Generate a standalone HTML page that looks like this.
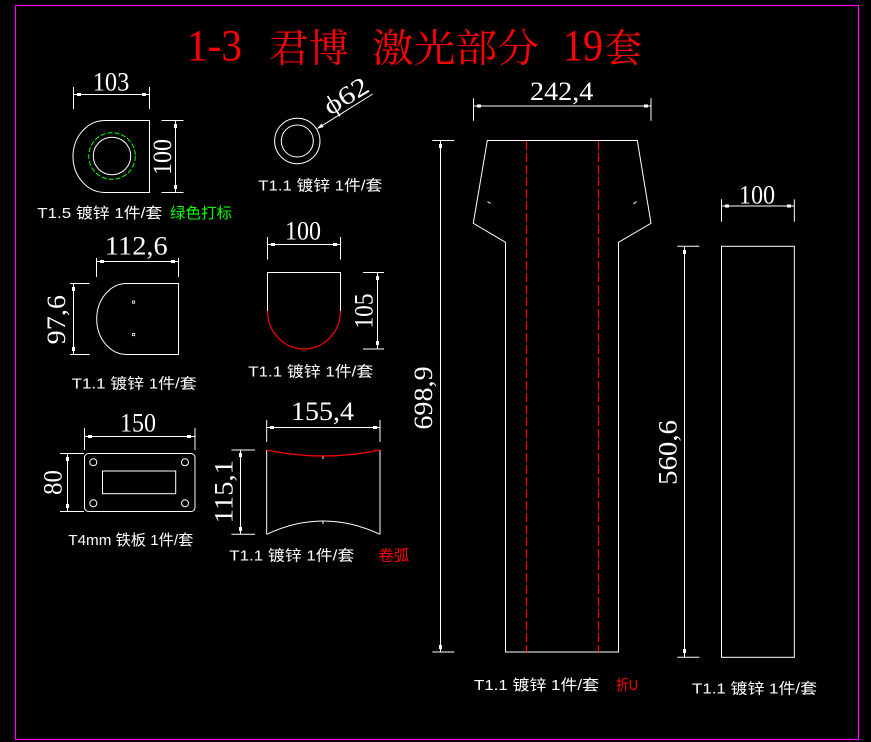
<!DOCTYPE html>
<html>
<head>
<meta charset="utf-8">
<style>
html,body{margin:0;padding:0;background:#000;}
svg{display:block;}
</style>
</head>
<body>
<svg width="871" height="742" viewBox="0 0 871 742" xmlns="http://www.w3.org/2000/svg">
<rect width="871" height="742" fill="#000"/>
<rect x="15.5" y="5.5" width="843" height="734" fill="none" stroke="#ff00ff" stroke-width="1.2"/>

<!-- Title -->
<g fill="#ff0000" font-family="'Liberation Serif','Noto Serif CJK SC',serif">
  <text x="187" y="60" font-size="44" textLength="55" lengthAdjust="spacingAndGlyphs">1-3</text>
  <text x="269" y="62" font-size="39" textLength="80" lengthAdjust="spacingAndGlyphs">君博</text>
  <text x="372" y="62" font-size="39" textLength="167" lengthAdjust="spacingAndGlyphs">激光部分</text>
  <text x="563" y="60" font-size="44" textLength="40" lengthAdjust="spacingAndGlyphs">19</text>
  <text x="605" y="62" font-size="39" textLength="37" lengthAdjust="spacingAndGlyphs">套</text>
</g>

<g stroke="#fff" stroke-width="1" fill="none">
  <!-- Part 1 -->
  <path d="M105,120.5 H149.5 V192.5 H105 A32,36 0 0 1 105,120.5 Z"/>
  <circle cx="112" cy="156" r="18.7"/>
  <line x1="73.5" y1="87" x2="73.5" y2="109"/>
  <line x1="149.5" y1="87" x2="149.5" y2="109"/>
  <line x1="73.5" y1="94.5" x2="149.5" y2="94.5"/>
  <line x1="161.5" y1="120.5" x2="183.5" y2="120.5"/>
  <line x1="161.5" y1="192.5" x2="183.5" y2="192.5"/>
  <line x1="175.5" y1="120.5" x2="175.5" y2="192.5"/>

  <!-- Part 2 -->
  <circle cx="297.3" cy="141" r="22.7"/>
  <circle cx="297.3" cy="141" r="16"/>
  <line x1="319" y1="127.6" x2="372.7" y2="94"/>

  <!-- Part 3 -->
  <path d="M126.7,283.5 H178.5 V354.5 H126.7 A30,35.5 0 0 1 126.7,283.5 Z"/>
  <rect x="132.5" y="301" width="2.2" height="2.2" stroke-width="0.8"/>
  <rect x="132.5" y="333.5" width="2.2" height="2.2" stroke-width="0.8"/>
  <line x1="96.5" y1="258" x2="96.5" y2="277"/>
  <line x1="178.5" y1="258" x2="178.5" y2="277"/>
  <line x1="96.5" y1="261.5" x2="178.5" y2="261.5"/>
  <line x1="70" y1="283.5" x2="89.5" y2="283.5"/>
  <line x1="70" y1="354.5" x2="89.5" y2="354.5"/>
  <line x1="73.5" y1="283.5" x2="73.5" y2="354.5"/>

  <!-- Part 4 -->
  <path d="M267.5,311 V272.5 H340.5 V311"/>
  <line x1="267.5" y1="237" x2="267.5" y2="259.5"/>
  <line x1="340.5" y1="237" x2="340.5" y2="259.5"/>
  <line x1="267.5" y1="244.5" x2="340.5" y2="244.5"/>
  <line x1="363" y1="272.5" x2="384" y2="272.5"/>
  <line x1="363" y1="349" x2="384" y2="349"/>
  <line x1="377.5" y1="272.5" x2="377.5" y2="349"/>

  <!-- Part 5 -->
  <rect x="84.5" y="453.5" width="110.5" height="58" rx="4"/>
  <circle cx="93.3" cy="462.3" r="3.5"/>
  <circle cx="185" cy="462.3" r="3.5"/>
  <circle cx="93.3" cy="503.3" r="3.5"/>
  <circle cx="185" cy="503.3" r="3.5"/>
  <rect x="102.5" y="471" width="73.2" height="22.7"/>
  <line x1="84.5" y1="428" x2="84.5" y2="450"/>
  <line x1="195" y1="428" x2="195" y2="450"/>
  <line x1="84.5" y1="436.5" x2="195" y2="436.5"/>
  <line x1="60" y1="453.5" x2="84" y2="453.5"/>
  <line x1="60" y1="511.5" x2="84" y2="511.5"/>
  <line x1="67.5" y1="453.5" x2="67.5" y2="511.5"/>

  <!-- Part 6 -->
  <line x1="266.7" y1="450" x2="266.7" y2="534.3"/>
  <line x1="380" y1="450" x2="380" y2="534.3"/>
  <path d="M266.7,534.3 Q323,507.7 380,534.3"/>
  <line x1="323" y1="520.5" x2="323" y2="524"/>
  <line x1="323" y1="456" x2="323" y2="459"/>
  <line x1="266.7" y1="420" x2="266.7" y2="442"/>
  <line x1="380" y1="420" x2="380" y2="442"/>
  <line x1="266.7" y1="427.5" x2="380" y2="427.5"/>
  <line x1="231.5" y1="450" x2="255" y2="450"/>
  <line x1="231.5" y1="534.3" x2="255" y2="534.3"/>
  <line x1="240.5" y1="450" x2="240.5" y2="534.3"/>

  <!-- Part 7 -->
  <path d="M487.3,140.5 H637.3 L651,223.3 L618.5,242.3 V652 H505.5 V242.3 L473.3,223.3 Z"/>
  <line x1="487.5" y1="201.5" x2="490.5" y2="203.5"/>
  <line x1="633.5" y1="204" x2="636.5" y2="201.5"/>
  <line x1="473.5" y1="98.3" x2="473.5" y2="120.7"/>
  <line x1="651" y1="98.3" x2="651" y2="120.7"/>
  <line x1="473.5" y1="106" x2="651" y2="106"/>
  <line x1="432.3" y1="140.5" x2="454.3" y2="140.5"/>
  <line x1="432.3" y1="652" x2="454.3" y2="652"/>
  <line x1="440.5" y1="140.5" x2="440.5" y2="652"/>

  <!-- Part 8 -->
  <rect x="721.5" y="246.3" width="72.8" height="411"/>
  <line x1="721.5" y1="199.3" x2="721.5" y2="221.7"/>
  <line x1="794.3" y1="199.3" x2="794.3" y2="221.7"/>
  <line x1="721.5" y1="206" x2="794.3" y2="206"/>
  <line x1="677.3" y1="246.3" x2="699.3" y2="246.3"/>
  <line x1="677.3" y1="657.3" x2="699.3" y2="657.3"/>
  <line x1="684.5" y1="246.3" x2="684.5" y2="657.3"/>
</g>

<!-- green and red lines -->
<circle cx="112" cy="156" r="23.3" fill="none" stroke="#00ff00" stroke-width="1" stroke-dasharray="5 2"/>
<path d="M267.5,311 A36.5,38 0 0 0 340.5,311" fill="none" stroke="#ff0000" stroke-width="1.2"/>
<path d="M266.7,450 Q323,462 380,450" fill="none" stroke="#ff0000" stroke-width="1.2"/>
<line x1="526.5" y1="141" x2="526.5" y2="652" stroke="#ff0000" stroke-width="1.2" stroke-dasharray="9 3"/>
<line x1="598.5" y1="141" x2="598.5" y2="652" stroke="#ff0000" stroke-width="1.2" stroke-dasharray="9 3"/>

<!-- dimension ticks -->
<g fill="#fff">
  <rect x="77" y="93" width="4" height="3"/><rect x="142" y="93" width="4" height="3"/>
  <rect x="174" y="124" width="3" height="4"/><rect x="174" y="185" width="3" height="4"/>
  <polygon points="316.6,129 323.6,127 321.5,123.6"/>
  <rect x="100" y="260" width="4" height="3"/><rect x="171" y="260" width="4" height="3"/>
  <rect x="72" y="287" width="3" height="4"/><rect x="72" y="347" width="3" height="4"/>
  <rect x="271" y="243" width="4" height="3"/><rect x="333" y="243" width="4" height="3"/>
  <rect x="376" y="276" width="3" height="4"/><rect x="376" y="341" width="3" height="4"/>
  <rect x="88" y="435" width="4" height="3"/><rect x="187" y="435" width="4" height="3"/>
  <rect x="66" y="457" width="3" height="4"/><rect x="66" y="504" width="3" height="4"/>
  <rect x="270" y="426" width="4" height="3"/><rect x="373" y="426" width="4" height="3"/>
  <rect x="239" y="453" width="3" height="4"/><rect x="239" y="527" width="3" height="4"/>
  <rect x="477" y="104.5" width="4" height="3"/><rect x="644" y="104.5" width="4" height="3"/>
  <rect x="439" y="144" width="3" height="4"/><rect x="439" y="645" width="3" height="4"/>
  <rect x="725" y="204.5" width="4" height="3"/><rect x="787" y="204.5" width="4" height="3"/>
  <rect x="683" y="250" width="3" height="4"/><rect x="683" y="649" width="3" height="4"/>
</g>

<!-- dimension texts -->
<g fill="#fff" font-family="'Liberation Serif','DejaVu Serif',serif" font-size="26" text-anchor="middle">
  <text x="111" y="90.7" textLength="36.6" lengthAdjust="spacingAndGlyphs">103</text>
  <text x="136.3" y="254.3" textLength="62.7" lengthAdjust="spacingAndGlyphs">112,6</text>
  <text x="303" y="239.5" textLength="36" lengthAdjust="spacingAndGlyphs">100</text>
  <text x="138" y="431.7" textLength="36" lengthAdjust="spacingAndGlyphs">150</text>
  <text x="322.5" y="420" textLength="63" lengthAdjust="spacingAndGlyphs">155,4</text>
  <text x="561.7" y="100" textLength="63.3" lengthAdjust="spacingAndGlyphs">242,4</text>
  <text x="757" y="203.3" textLength="36.3" lengthAdjust="spacingAndGlyphs">100</text>

  <text transform="translate(162.5 157) rotate(-90)" y="8.5" textLength="36" lengthAdjust="spacingAndGlyphs">100</text>
  <text transform="translate(56.3 319.7) rotate(-90)" y="8.5" textLength="49.3" lengthAdjust="spacingAndGlyphs">97,6</text>
  <text transform="translate(364 311) rotate(-90)" y="8.5" textLength="35" lengthAdjust="spacingAndGlyphs">105</text>
  <text transform="translate(52.8 482.5) rotate(-90)" y="8.5" textLength="25" lengthAdjust="spacingAndGlyphs">80</text>
  <text transform="translate(224 491.7) rotate(-90)" y="8.5" textLength="63.3" lengthAdjust="spacingAndGlyphs">115,1</text>
  <text transform="translate(423.5 398) rotate(-90)" y="8.5" textLength="63.3" lengthAdjust="spacingAndGlyphs">698,9</text>
  <text transform="translate(668 452.5) rotate(-90)" y="8.5" textLength="65" lengthAdjust="spacingAndGlyphs">560,6</text>

  <text transform="translate(346 96) rotate(-31.5)" y="8.5" textLength="48" lengthAdjust="spacingAndGlyphs">ϕ62</text>
</g>

<!-- labels -->
<g fill="#fff" font-family="'Liberation Sans','Noto Sans CJK SC',sans-serif" font-size="15">
  <text x="37.3" y="218" textLength="125" lengthAdjust="spacingAndGlyphs">T1.5 镀锌 1件/套</text>
  <text x="170" y="218" fill="#00ff00" textLength="62" lengthAdjust="spacingAndGlyphs">绿色打标</text>
  <text x="258.3" y="190.7" textLength="124" lengthAdjust="spacingAndGlyphs">T1.1 镀锌 1件/套</text>
  <text x="71.7" y="388.5" textLength="125" lengthAdjust="spacingAndGlyphs">T1.1 镀锌 1件/套</text>
  <text x="248.3" y="376.7" textLength="125" lengthAdjust="spacingAndGlyphs">T1.1 镀锌 1件/套</text>
  <text x="68.3" y="545" textLength="125" lengthAdjust="spacingAndGlyphs">T4mm 铁板 1件/套</text>
  <text x="229.3" y="560.7" textLength="125" lengthAdjust="spacingAndGlyphs">T1.1 镀锌 1件/套</text>
  <text x="378.3" y="560.7" fill="#ff0000" textLength="31" lengthAdjust="spacingAndGlyphs">卷弧</text>
  <text x="474" y="690" textLength="125" lengthAdjust="spacingAndGlyphs">T1.1 镀锌 1件/套</text>
  <text x="616" y="690" fill="#ff0000" textLength="22" lengthAdjust="spacingAndGlyphs">折U</text>
  <text x="692" y="693.3" textLength="125" lengthAdjust="spacingAndGlyphs">T1.1 镀锌 1件/套</text>
</g>
</svg>
</body>
</html>
